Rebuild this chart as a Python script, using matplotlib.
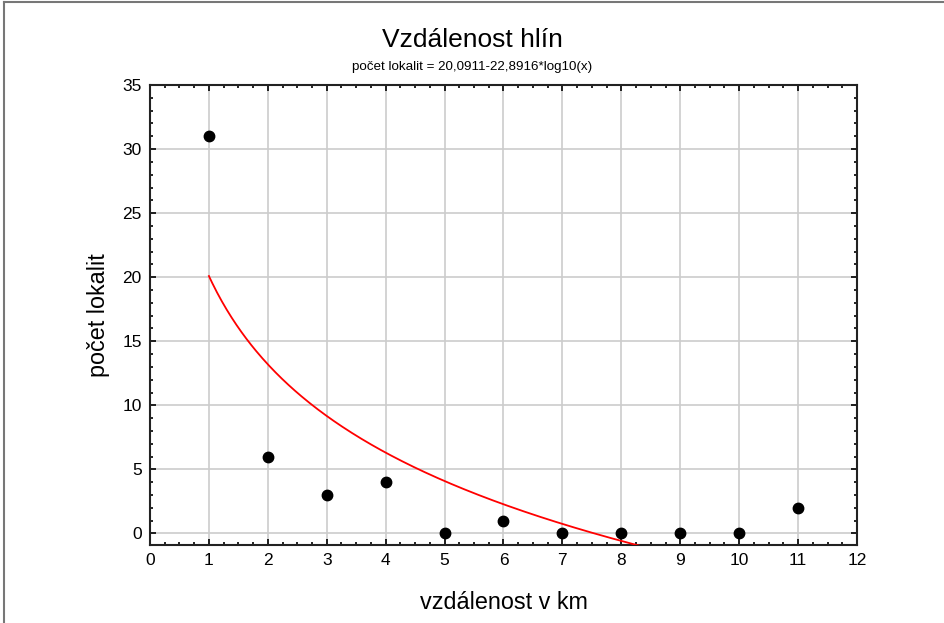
import numpy as np
import matplotlib
matplotlib.use('Agg')
import matplotlib.pyplot as plt
from matplotlib.lines import Line2D
from matplotlib.ticker import MultipleLocator

plt.rcParams['font.family'] = ['Liberation Sans', 'DejaVu Sans']

#==================================================================
#                   data
#==================================================================
distance = [1, 2, 3, 4, 5, 6, 7, 8, 9, 10, 11]
count    = [31, 6, 3, 4, 0, 1, 0, 0, 0, 0, 2]

# fitted model from the subtitle: y = a - b*log10(x)
fit_a = 20.0911
fit_b = 22.8916

xticks = list(range(0, 13))
yticks = list(range(0, 36, 5))

#==================================================================
fig = plt.figure(figsize=(9.45, 6.23), dpi=100)
ax = fig.add_axes([150/945, 1-545/623, (857-150)/945, (545-85)/623])

xfit = np.linspace(1, 12, 400)
yfit = fit_a - fit_b*np.log10(xfit)
ax.plot(xfit, yfit, color='#ff0000', linewidth=1.3, zorder=3)
ax.plot(distance, count, 'o', color='black', markersize=7.5, zorder=4)

ax.set_xlim(0, 12)
ax.set_ylim(-0.9, 35)
ax.set_xticks(xticks)
ax.set_yticks(yticks)
ax.xaxis.set_minor_locator(MultipleLocator(0.25))
ax.yaxis.set_minor_locator(MultipleLocator(1))
ax.tick_params(which='both', direction='in', top=True, right=True, labelsize=12.5, colors='black')
ax.tick_params(which='major', length=4, width=1.2, pad=6)
ax.tick_params(which='minor', length=2.5, width=1.2)
ax.grid(True, which='major', color='#cccccc', linewidth=1.2)
ax.set_axisbelow(True)
for s in ax.spines.values():
    s.set_linewidth(1.5)
    s.set_color('#222222')

ax.set_xlabel('vzdálenost v km', fontsize=16.8, labelpad=16)
ax.set_ylabel('počet lokalit', fontsize=16.8, labelpad=9)

fig.text(0.5, 1-40/623, 'Vzdálenost hlín', ha='center', va='center', fontsize=19)
fig.text(0.5, 1-67/623, 'počet lokalit = 20,0911-22,8916*log10(x)', ha='center', va='center', fontsize=9.6)

# gray frame on top and left edges
fig.add_artist(Line2D([4/945, 4/945], [0, 1-2/623], color='#777777', linewidth=1.5, transform=fig.transFigure))
fig.add_artist(Line2D([4/945, 1], [1-2/623, 1-2/623], color='#777777', linewidth=1.5, transform=fig.transFigure))

plt.savefig('out.png', dpi=100)
